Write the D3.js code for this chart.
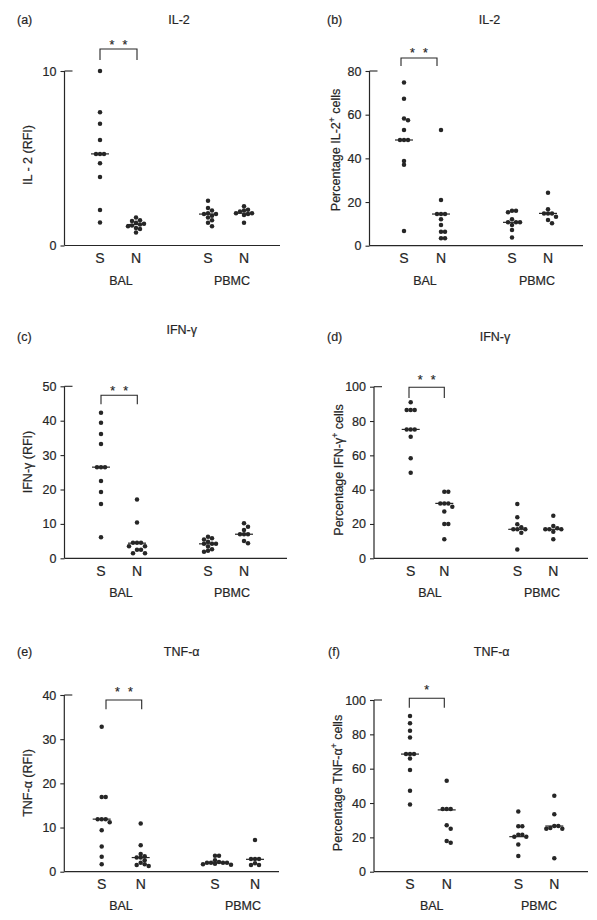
<!DOCTYPE html>
<html><head><meta charset="utf-8">
<script src="https://cdn.jsdelivr.net/npm/d3@7"></script>
<style>
body{margin:0;background:#fff;}
text{font-family:"Liberation Sans",Arial,Helvetica,sans-serif;fill:#262626;stroke:#262626;stroke-width:0.2px;}
</style></head><body>
<svg id="chart" width="597" height="920"></svg>
<script>
// ---------- data ----------
const groups = ["S","N","S","N"];
const sites = ["BAL","PBMC"];

// (a) IL-2 (RFI)
const aTicks = [0,10];
const aBalS  = [10,7.63,6.97,6.05,5.25,5.25,5.25,4.71,3.93,2.04,1.32];
const aBalN  = [1.6,1.45,1.4,1.3,1.25,1.2,1.15,1.1,1.0,0.95,0.75];
const aPbmcS = [2.57,2.15,2.0,1.85,1.8,1.8,1.7,1.6,1.45,1.3,1.1];
const aPbmcN = [2.25,2.05,2.0,1.95,1.85,1.85,1.8,1.75,1.3];
const aMed   = [5.25,1.2,1.8,1.85];

// (b) Percentage IL-2+ cells
const bTicks = [0,20,40,60,80];
const bBalS  = [74.7,67.3,58.3,57.5,53,48.4,48.4,48.4,38.8,37.1,6.7];
const bBalN  = [53,20.9,14.5,14.5,14.5,12.1,9.5,6.4,6.4,3.4,3.4];
const bPbmcS = [16,16,15.3,12.1,10.7,10.7,10.7,9.5,7.2,3.8];
const bPbmcN = [24.3,16.7,14.8,14.8,14.8,13.3,11.8,10.3];
const bMed   = [48.4,14.5,10.7,14.8];

// (c) IFN-γ (RFI)
const cTicks = [0,10,20,30,40,50];
const cBalS  = [42.3,39.4,36.1,33.2,26.5,26.5,26.5,22.5,19.3,15.8,6.1];
const cBalN  = [17.1,10.4,4.5,4.5,4.5,3.5,3.5,2.5,2.5,1.5,1.5];
const cPbmcS = [6.3,5.8,5.5,4.8,4.2,4.2,4.2,3.4,2.6,2.2,1.9];
const cPbmcN = [10.2,9.2,8.2,7.0,7.0,7.0,5.0,4.4];
const cMed   = [26.5,4.4,4.2,7.0];

// (d) Percentage IFN-γ+ cells
const dTicks = [0,20,40,60,80,100];
const dBalS  = [90.9,86.4,86.4,86.4,75.1,75.1,75.1,70.9,58.3,49.9];
const dBalN  = [38.8,38.8,32,32,32,30.1,27.2,20,20,11.1];
const dPbmcS = [31.6,23.9,19.8,18.1,16.9,16.9,16.9,14.9,5.2];
const dPbmcN = [24.8,18.8,17.5,16.9,16.9,16.9,15.5,11.1];
const dMed   = [75.1,32,16.9,16.9];

// (e) TNF-α (RFI)
const eTicks = [0,10,20,30,40];
const eBalS  = [32.8,16.9,16.9,11.9,11.9,11.9,11.2,9.4,5.7,3.4,1.7];
const eBalN  = [10.9,6.0,4.0,3.5,3.2,3.2,2.6,2.0,1.7,1.5,1.3];
const ePbmcS = [3.6,3.6,2.6,2.2,2.0,2.0,2.0,2.0,1.8,1.7,1.6];
const ePbmcN = [7.2,2.9,2.9,2.9,1.9,1.5,1.5];
const eMed   = [11.9,3.2,2.0,2.8];

// (f) Percentage TNF-α+ cells
const fTicks = [0,20,40,60,80,100];
const fBalS  = [90.7,86.4,82.1,78.1,68.5,68.5,68.5,66.0,59.2,47.2,39.2];
const fBalN  = [53,36.5,36.5,36.5,27,25,17.9,16.9];
const fPbmcS = [35,26.5,26.5,21.5,21.5,20.4,20.4,15.9,9.1];
const fPbmcN = [44.3,33.4,26.6,26.6,25.5,25,25,7.8];
const fMed   = [68.5,36,20.4,26.6];

const tags   = ["(a)","(b)","(c)","(d)","(e)","(f)"];
const titles = ["IL-2","IL-2","IFN-γ","IFN-γ","TNF-α","TNF-α"];
const yLabels = [
  ["IL - 2 (RFI)"], ["Percentage IL-2","+"," cells"],
  ["IFN-γ (RFI)"], ["Percentage IFN-γ","+"," cells"],
  ["TNF-α (RFI)"], ["Percentage TNF-α","+"," cells"]
];
const stars = [2,2,2,2,2,1];

// ---------- layout ----------
const panels = [
  {ticks:aTicks, vals:[aBalS,aBalN,aPbmcS,aPbmcN], med:aMed,
   ax:64.5, y0:245.5, yTop:71, xEnd:280, cx:[100,136,208,244], site:[121,232], catY:263, siteY:284.5,
   title:[179,24], tag:[17,24], ylab:[28,155], br:[100,137,49,60], starY:49},
  {ticks:bTicks, vals:[bBalS,bBalN,bPbmcS,bPbmcN], med:bMed,
   ax:369.5, y0:245.7, yTop:71, xEnd:583, cx:[404,441,512,548], site:[425,537], catY:263, siteY:284.5,
   title:[489.5,24], tag:[327,24], ylab:[336,150], br:[401,437,58,66], starY:57},
  {ticks:cTicks, vals:[cBalS,cBalN,cPbmcS,cPbmcN], med:cMed,
   ax:64.5, y0:558.3, yTop:386.3, xEnd:287, cx:[101,137,208,244], site:[121,232], catY:575.5, siteY:597,
   title:[181.7,334], tag:[17,341], ylab:[28,462], br:[101,137.3,395.3,404.3], starY:395},
  {ticks:dTicks, vals:[dBalS,dBalN,dPbmcS,dPbmcN], med:dMed,
   ax:374, y0:558.3, yTop:386.7, xEnd:588, cx:[410.7,444.3,517.3,553.3], site:[430,542], catY:575.5, siteY:597,
   title:[495,341], tag:[327,341], ylab:[339,470], br:[409,444.3,387.3,398], starY:384},
  {ticks:eTicks, vals:[eBalS,eBalN,ePbmcS,ePbmcN], med:eMed,
   ax:64.3, y0:871.7, yTop:695, xEnd:279, cx:[101.7,140.7,215,255], site:[121,243], catY:888.5, siteY:909.5,
   title:[181.7,656], tag:[17,656], ylab:[28,783], br:[106,141.7,700,709.3], starY:696},
  {ticks:fTicks, vals:[fBalS,fBalN,fPbmcS,fPbmcN], med:fMed,
   ax:374, y0:871.7, yTop:700, xEnd:588, cx:[410,446.7,518.3,554.3], site:[431.7,539], catY:888.5, siteY:909.5,
   title:[491.7,656], tag:[328,656], ylab:[338,783], br:[409.3,444.3,698.3,707.7], starY:694}
];

const svg = d3.select("#chart");
const ink = "#262626";
const R = 2.25, STEP = 4;

function swarm(vals, cx, y){
  const sorted = vals.slice().sort((a,b)=>b-a);
  const placed = [];
  const offs=[0]; for(let i=1;i<8;i++){offs.push(i*STEP,-i*STEP);}
  sorted.forEach(v=>{
    const py = y(v);
    for(const o of offs){
      const px = cx+o;
      if(placed.every(p=>Math.hypot(p.x-px,p.y-py) >= 2*R*0.78)){placed.push({x:px,y:py}); break;}
    }
  });
  return placed;
}

panels.forEach((p,i)=>{
  const g = svg.append("g");
  const max = d3.max(p.ticks);
  const y = d3.scaleLinear().domain([0,max]).range([p.y0,p.yTop]);

  // y axis
  const axis = d3.axisLeft(y).tickValues(p.ticks).tickSize(4).tickPadding(4).tickFormat(d3.format("d"));
  const ag = g.append("g").attr("transform",`translate(${p.ax},0)`).call(axis);
  ag.select(".domain").remove();
  ag.selectAll(".tick line").attr("stroke",ink).attr("stroke-width",1.1);
  ag.selectAll(".tick text").attr("fill",ink).style("font-size","12.5px")
    .style("font-family",'"Liberation Sans",Arial,sans-serif');
  g.append("line").attr("x1",p.ax).attr("x2",p.ax).attr("y1",p.y0).attr("y2",y(max))
    .attr("stroke",ink).attr("stroke-width",1.2);
  g.append("line").attr("x1",p.ax).attr("x2",p.ax+8).attr("y1",y(max)).attr("y2",y(max))
    .attr("stroke",ink).attr("stroke-width",1.1);
  // x axis
  g.append("line").attr("x1",p.ax).attr("x2",p.xEnd).attr("y1",p.y0).attr("y2",p.y0)
    .attr("stroke",ink).attr("stroke-width",1.2);

  // dots + medians
  p.vals.forEach((vals,k)=>{
    const pts = swarm(vals,p.cx[k],y);
    g.selectAll(null).data(pts).enter().append("circle")
      .attr("cx",d=>d.x).attr("cy",d=>d.y).attr("r",R).attr("fill",ink);
    g.append("line").attr("x1",p.cx[k]-9).attr("x2",p.cx[k]+9)
      .attr("y1",y(p.med[k])).attr("y2",y(p.med[k])).attr("stroke",ink).attr("stroke-width",1.2);
  });

  // category labels
  groups.forEach((c,k)=>{
    g.append("text").attr("x",p.cx[k]).attr("y",p.catY).attr("text-anchor","middle")
      .style("font-size","14px").text(c);
  });
  sites.forEach((s,k)=>{
    g.append("text").attr("x",p.site[k]).attr("y",p.siteY).attr("text-anchor","middle")
      .style("font-size","12.5px").text(s);
  });

  // title, tag
  g.append("text").attr("x",p.title[0]).attr("y",p.title[1]).attr("text-anchor","middle")
    .style("font-size","12.5px").text(titles[i]);
  g.append("text").attr("x",p.tag[0]).attr("y",p.tag[1])
    .style("font-size","12.5px").text(tags[i]);

  // y label
  const yl = g.append("text").attr("transform",`translate(${p.ylab[0]},${p.ylab[1]}) rotate(-90)`)
    .attr("text-anchor","middle").attr("dy","0.35em").style("font-size","12.5px");
  const parts = yLabels[i];
  yl.append("tspan").text(parts[0]);
  if(parts.length>1){
    yl.append("tspan").attr("dy",-5).style("font-size","8.5px").text(parts[1]);
    yl.append("tspan").attr("dy",5).text(parts[2]);
  }

  // significance bracket
  const [x1,x2,top,bot] = p.br;
  g.append("path").attr("d",`M${x1},${bot}V${top}H${x2}V${bot}`)
    .attr("fill","none").attr("stroke",ink).attr("stroke-width",1.1);
  const mid=(x1+x2)/2;
  const sx = stars[i]===2 ? [mid-6.5, mid+6.5] : [mid];
  sx.forEach(x=>g.append("text").attr("x",x).attr("y",p.starY).attr("text-anchor","middle")
    .style("font-size","12.5px").text("*"));
});
</script>
</body></html>
